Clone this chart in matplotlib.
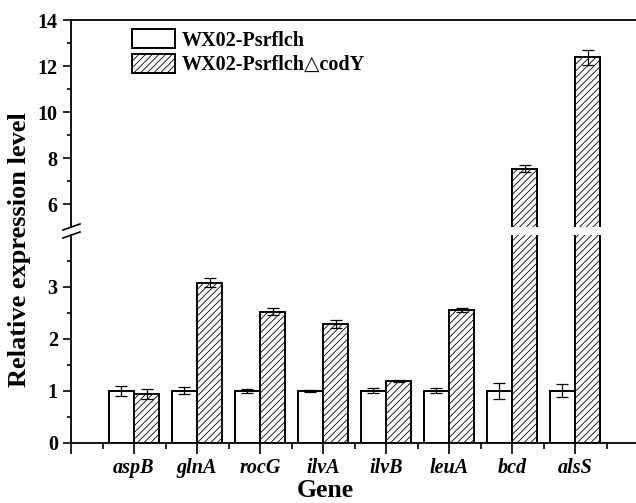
import matplotlib
matplotlib.use("Agg")
import matplotlib.pyplot as plt
from matplotlib.lines import Line2D
from matplotlib.ticker import FixedLocator
import numpy as np

plt.rcParams['font.family'] = ['Liberation Serif', 'DejaVu Serif']
plt.rcParams['font.weight'] = 'bold'
plt.rcParams['hatch.linewidth'] = 0.6
plt.rcParams['hatch.color'] = '#707070'

genes = ['aspB', 'glnA', 'rocG', 'ilvA', 'ilvB', 'leuA', 'bcd', 'alsS']
wt = [1.0, 1.0, 1.0, 1.0, 1.0, 1.0, 1.0, 1.0]
wt_err = [0.10, 0.07, 0.04, 0.02, 0.05, 0.05, 0.15, 0.12]
mut = [0.94, 3.08, 2.52, 2.28, 1.19, 2.55, 7.53, 12.38]
mut_err = [0.09, 0.09, 0.065, 0.08, 0.025, 0.035, 0.15, 0.33]
labels = ['WX02-Psrflch', 'WX02-Psrflch\u25b3codY']

W, H = 636, 503
fig = plt.figure(figsize=(W / 100, H / 100), dpi=100)

left = 71 / W
width = 1 - left
ax_hi = fig.add_axes([left, 1 - 227 / H, width, 207 / H])
ax_lo = fig.add_axes([left, 1 - 442.7 / H, width, 208 / H])

x = np.arange(1, len(genes) + 1)
bw = 0.4
ekw = dict(ecolor='black', elinewidth=0.9, capsize=4.5, capthick=0.9)
for ax in (ax_hi, ax_lo):
    ax.bar(x - bw / 2, wt, bw, color='white', edgecolor='black', linewidth=1.4,
           yerr=wt_err, error_kw=ekw, label=labels[0])
    ax.bar(x + bw / 2, mut, bw, color='white', edgecolor='black', linewidth=1.4, hatch='/////',
           yerr=mut_err, error_kw=ekw, label=labels[1])
    ax.set_xlim(0, (W - 71) / 63)
    ax.spines['right'].set_visible(False)
    for s in ax.spines.values():
        s.set_linewidth(1.3)
    ax.tick_params(axis='both', which='major', direction='out', length=6, width=1.2,
                   labelsize=14.5)
    ax.tick_params(axis='both', which='minor', direction='out', length=3, width=1.2)

ax_hi.set_ylim(5, 14)
ax_hi.yaxis.set_major_locator(FixedLocator([6, 8, 10, 12, 14]))
ax_hi.yaxis.set_minor_locator(FixedLocator([7, 9, 11, 13]))
ax_hi.spines['bottom'].set_visible(False)
ax_hi.tick_params(axis='x', which='both', bottom=False, labelbottom=False)

ax_lo.set_ylim(0, 4.0)
ax_lo.yaxis.set_major_locator(FixedLocator([0, 1, 2, 3]))
ax_lo.yaxis.set_minor_locator(FixedLocator([0.5, 1.5, 2.5, 3.5]))
ax_lo.spines['top'].set_visible(False)
ax_lo.xaxis.set_major_locator(FixedLocator(list(range(0, 9))))
ax_lo.xaxis.set_minor_locator(FixedLocator([i + 0.5 for i in range(9)]))
ax_lo.set_xticklabels([''] + genes, fontstyle='italic', fontweight='bold', fontsize=14.5)
ax_lo.tick_params(axis='x', which='major', length=8, pad=3)
ax_lo.tick_params(axis='x', which='minor', length=4)

fig.text(325 / W, 1 - 497 / H, 'Gene', ha='center', va='baseline',
         fontsize=18.5, fontweight='bold')
fig.text(20 / W, 1 - 250 / H, 'Relative expression level', rotation=90, ha='center',
         va='center', fontsize=19, fontweight='bold')

# break marks on the y axis
for y0 in (230, 238):
    fig.add_artist(Line2D([63 / W, 80 / W], [1 - y0 / H, 1 - (y0 - 6) / H],
                          transform=fig.transFigure, color='black', linewidth=1.2))

leg = ax_hi.legend(loc='upper left', frameon=False, fontsize=14.5,
                   handlelength=2.15, handleheight=1.1, labelspacing=0.15, handletextpad=0.3,
                   borderaxespad=0, borderpad=0)
leg.set_bbox_to_anchor((132 / W, 1 - 29 / H), transform=fig.transFigure)
for t in leg.get_texts():
    t.set_fontweight('bold')

fig.savefig('out.png', dpi=100)
